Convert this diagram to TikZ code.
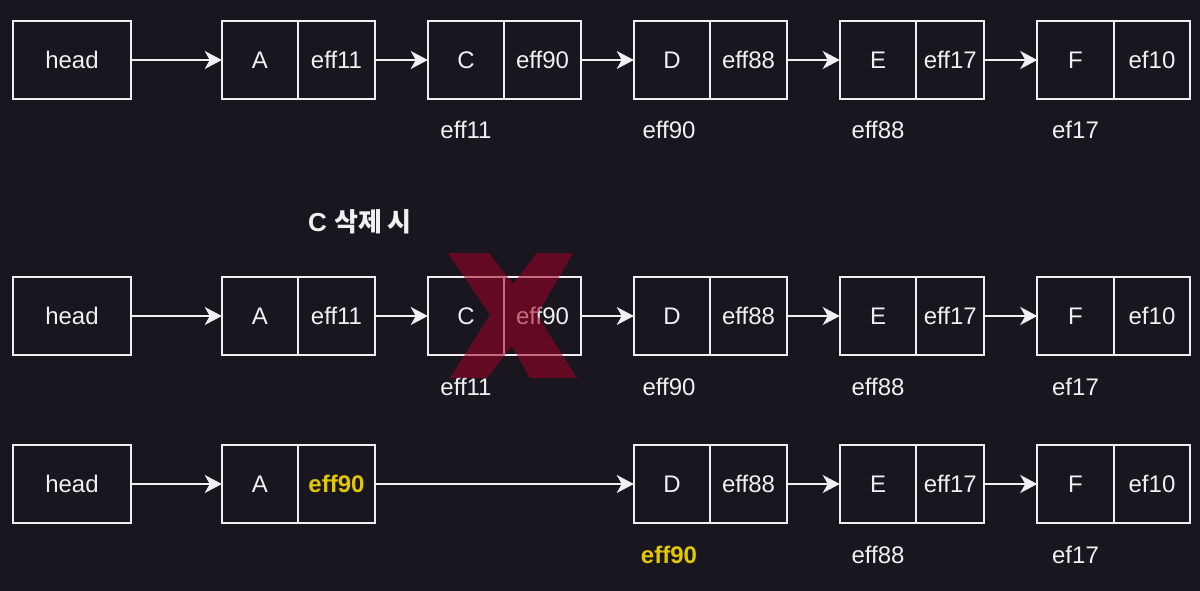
\documentclass[tikz,border=0pt]{standalone}
\usepackage{fontspec}
\setmainfont{Liberation Sans}
\newfontfamily\krfont{Noto Sans CJK KR}
\usetikzlibrary{positioning,arrows.meta}
\definecolor{bgcol}{HTML}{19161F}
\definecolor{linecol}{HTML}{F0F0F0}
\definecolor{addrcol}{HTML}{E3C800}
\definecolor{xcol}{HTML}{A20025}

\begin{document}
\begin{tikzpicture}[x=1pt,y=-1pt,color=linecol,line width=2pt,
    font=\fontsize{24}{28}\selectfont,
    cell/.style={draw,minimum width=76.5pt,minimum height=78pt,inner sep=0pt,outer sep=0pt,
      text height=17pt,text depth=0pt},
    headcell/.style={cell,minimum width=118pt},
    addr/.style={inner sep=0pt,text height=17pt,text depth=0pt},
    hot/.style={text=addrcol,font=\fontsize{24}{28}\selectfont\bfseries},
    >={Stealth[length=17pt,width=18pt,inset=5pt]}]

      \fill[bgcol] (0,0) rectangle (1200,591);

      % before
      \node[headcell] (h1) at (72,60) {head};
      \node[cell] (a1) at (260,60) {A};
      \node[cell] (a1n) [right=0pt of a1] {eff11};
      \node[cell] (c1) [right=53pt of a1n] {C};
      \node[cell] (c1n) [right=0pt of c1] {eff90};
      \node[cell] (d1) [right=53pt of c1n] {D};
      \node[cell] (d1n) [right=0pt of d1] {eff88};
      \node[cell] (e1) [right=53pt of d1n] {E};
      \node[cell,minimum width=68pt] (e1n) [right=0pt of e1] {eff17};
      \node[cell] (f1) [right=53pt of e1n] {F};
      \node[cell] (f1n) [right=0pt of f1] {ef10};

      \node[addr] (c1a) [below=22pt of c1] {eff11};
      \node[addr] (d1a) [below=22pt of d1,xshift=-3pt] {eff90};
      \node[addr] (e1a) [below=22pt of e1] {eff88};
      \node[addr] (f1a) [below=22pt of f1] {ef17};

      \draw[->] (h1) -- (a1);
      \draw[->] (a1n) -- (c1);
      \draw[->] (c1n) -- (d1);
      \draw[->] (d1n) -- (e1);
      \draw[->] (e1n) -- (f1);

      % delete C
      \node[font=\fontsize{26}{30}\selectfont\bfseries] (t2) at (360,222) {C {\krfont 삭제 시}};

      \node[headcell] (h2) at (72,316) {head};
      \node[cell] (a2) at (260,316) {A};
      \node[cell] (a2n) [right=0pt of a2] {eff11};
      \node[cell] (c2) [right=53pt of a2n] {C};
      \node[cell] (c2n) [right=0pt of c2] {eff90};
      \node[cell] (d2) [right=53pt of c2n] {D};
      \node[cell] (d2n) [right=0pt of d2] {eff88};
      \node[cell] (e2) [right=53pt of d2n] {E};
      \node[cell,minimum width=68pt] (e2n) [right=0pt of e2] {eff17};
      \node[cell] (f2) [right=53pt of e2n] {F};
      \node[cell] (f2n) [right=0pt of f2] {ef10};

      \node[addr] (c2a) [below=22pt of c2] {eff11};
      \node[addr] (d2a) [below=22pt of d2,xshift=-3pt] {eff90};
      \node[addr] (e2a) [below=22pt of e2] {eff88};
      \node[addr] (f2a) [below=22pt of f2] {ef17};

      \draw[->] (h2) -- (a2);
      \draw[->] (a2n) -- (c2);
      \draw[->] (c2n) -- (d2);
      \draw[->] (d2n) -- (e2);
      \draw[->] (e2n) -- (f2);

      \fill[xcol,fill opacity=0.55] (448,253) -- (489,253) -- (513,284) -- (537,253) -- (573,253)
        -- (537,315) -- (577,378) -- (530,378) -- (512,346) -- (487,378) -- (450,378)
        -- (490,315) -- cycle;

      % after
      \node[headcell] (h3) at (72,484) {head};
      \node[cell] (a3) at (260,484) {A};
      \node[cell,hot] (a3n) [right=0pt of a3] {eff90};
      \node[cell] (d3) [right=259pt of a3n] {D};
      \node[cell] (d3n) [right=0pt of d3] {eff88};
      \node[cell] (e3) [right=53pt of d3n] {E};
      \node[cell,minimum width=68pt] (e3n) [right=0pt of e3] {eff17};
      \node[cell] (f3) [right=53pt of e3n] {F};
      \node[cell] (f3n) [right=0pt of f3] {ef10};

      \node[addr,hot] (d3a) [below=22pt of d3,xshift=-3pt] {eff90};
      \node[addr] (e3a) [below=22pt of e3] {eff88};
      \node[addr] (f3a) [below=22pt of f3] {ef17};

      \draw[->] (h3) -- (a3);
      \draw[->] (a3n) -- (d3);
      \draw[->] (d3n) -- (e3);
      \draw[->] (e3n) -- (f3);
    \end{tikzpicture}
\end{document}
